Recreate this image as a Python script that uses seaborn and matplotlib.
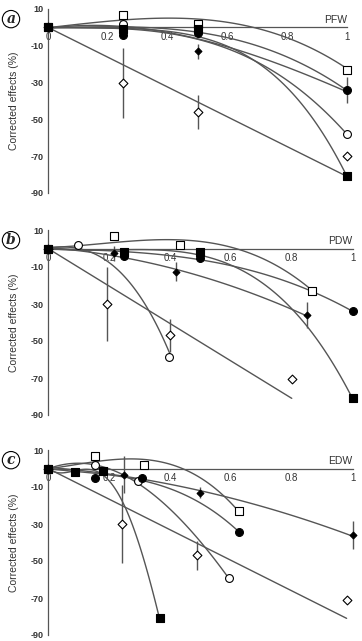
import numpy as np
import matplotlib
matplotlib.use("Agg")
import matplotlib.pyplot as plt
import seaborn as sns

# ---------------- panel a : PFW ----------------
a_osq_x = [0, 0.25, 0.5, 1]
a_osq_y = [0, 7, 2, -23]
a_fci_x = [0, 0.25, 0.5, 1]
a_fci_y = [0, -4, -3, -34]
a_fci_e = [0, 0, 0, 7]
a_oci_x = [0, 0.25, 0.5, 1]
a_oci_y = [0, 2, -1, -58]
a_odi_x = [0, 0.25, 0.5, 1]
a_odi_y = [0, -30, -46, -70]
a_odi_e = [0, 19, 9, 0]
a_fsq_x = [0, 0.25, 0.5, 1]
a_fsq_y = [0, -1, -1, -81]
a_fdi_x = [0, 0.5]
a_fdi_y = [0, -13]
a_fdi_e = [0, 4]

# trend curves (x, y, polynomial order)
a_curves = [
    ([0, 0.25, 0.5, 0.7, 0.85, 1], [0, 3.5, 5, 0, -10, -22], 3),
    ([0, 0.25, 0.5, 0.81, 1], [0, -0.5, -1.5, -17.6, -34], 3),
    ([0, 0.25, 0.52, 0.7, 0.865, 1], [0, -1.5, -4, -16.6, -27.5, -34], 3),
    ([0, 0.25, 0.5, 0.7, 0.85, 1], [0, -1, -6, -19, -35, -58], 3),
    ([0, 0.25, 0.5, 0.7, 0.85, 1], [0, -0.5, -5, -19, -42, -81], 4),
    ([0, 1], [0, -81], 1),
]

# ---------------- panel b : PDW ----------------
b_osq_x = [0, 0.215, 0.434, 0.867]
b_osq_y = [0, 7, 2, -23]
b_fci_x = [0, 0.25, 0.5, 1]
b_fci_y = [0, -4, -5, -34]
b_fci_e = [0, 0, 0, 0]
b_oci_x = [0, 0.1, 0.396]
b_oci_y = [0, 2, -58.5]
b_odi_x = [0, 0.195, 0.40, 0.80]
b_odi_y = [0, -30, -47, -70.5]
b_odi_e = [0, 20, 9, 0]
b_fsq_x = [0, 0.25, 0.5, 1]
b_fsq_y = [0, -2, -2, -81]
b_fdi_x = [0, 0.215, 0.42, 0.849]
b_fdi_y = [0, -2.5, -12.5, -36]
b_fdi_e = [0, 4, 5, 7]

b_curves = [
    ([0, 0.1, 0.25, 0.434, 0.6, 0.763, 0.867], [0, 2.5, 3.5, 4, 1, -10, -23], 3),
    ([0, 0.25, 0.5, 0.7, 0.867, 1], [0, -2, -5.5, -14, -23, -34], 3),
    ([0, 0.21, 0.42, 0.63, 0.85], [0, -3, -11, -23, -36], 2),
    ([0, 0.25, 0.5, 0.7, 0.8, 0.9, 1], [0, -0.5, -4, -18, -32, -54, -81], 4),
    ([0, 0.1, 0.17, 0.28, 0.356, 0.4], [0, 1, -5, -22, -39, -58], 3),
    ([0, 0.8], [0, -81], 1),
]

# ---------------- panel c : EDW ----------------
c_osq_x = [0, 0.155, 0.314, 0.626]
c_osq_y = [0, 7, 2, -23]
c_fci_x = [0, 0.155, 0.31, 0.626]
c_fci_y = [0, -5, -5, -34.5]
c_fci_e = [0, 0, 0, 0]
c_oci_x = [0, 0.155, 0.297, 0.593]
c_oci_y = [0, 2, -7, -59]
c_odi_x = [0, 0.242, 0.49, 0.98]
c_odi_y = [0, -30, -47, -71]
c_odi_e = [0, 21, 8, 0]
c_fsq_x = [0, 0.089, 0.182, 0.366]
c_fsq_y = [0, -2, -1.5, -81]
c_fdi_x = [0, 0.248, 0.5, 1]
c_fdi_y = [0, -3.5, -13, -36]
c_fdi_e = [0, 10, 3, 7.5]

c_curves = [
    ([0, 0.15, 0.3, 0.4, 0.5, 0.626], [0, 3, 5.5, 3, -6, -23], 3),
    ([0, 0.155, 0.31, 0.5, 0.626], [0, -3, -6, -19, -34], 3),
    ([0, 0.155, 0.3, 0.39, 0.5, 0.593], [0, 1, -7, -21, -40, -59], 3),
    ([0, 0.09, 0.18, 0.25, 0.3, 0.366], [0, -1, -4, -19, -42, -81], 4),
    ([0, 0.25, 0.5, 0.75, 1], [0, -3, -12, -24, -36], 2),
    ([0, 0.98], [0, -81], 1),
]

x_ticks = [0, 0.2, 0.4, 0.6, 0.8, 1]
x_tick_labels = ["0", "0.2", "0.4", "0.6", "0.8", "1"]
y_ticks = [10, -10, -30, -50, -70, -90]
y_tick_labels = ["10", "-10", "-30", "-50", "-70", "-90"]

# marker, face colour, size (pt^2)
STYLES = {
    "odi": ("D", "white", 20),
    "fdi": ("D", "black", 12),
    "oci": ("o", "white", 32),
    "fci": ("o", "black", 32),
    "osq": ("s", "white", 32),
    "fsq": ("s", "black", 32),
}

LINE_COL = "#555555"


def draw_panel(ax, series, curves, name, letter, ax_w_px):
    for cx, cy, order in curves:
        sns.regplot(x=np.array(cx, float), y=np.array(cy, float), order=order,
                    ci=None, scatter=False, truncate=True, ax=ax,
                    color=LINE_COL, line_kws={"lw": 1.0, "zorder": 2})

    for key, x, y, err in series:
        if err is not None:
            ax.errorbar(x, y, yerr=err, fmt="none", ecolor=LINE_COL,
                        elinewidth=1.0, capsize=0, zorder=3, clip_on=False)
    for key, x, y, err in series:
        m, fc, s = STYLES[key]
        sns.scatterplot(x=x, y=y, marker=m, s=s, color=fc, edgecolor="black",
                        linewidth=0.8, zorder=5, clip_on=False, ax=ax)

    ax.set_xlim(0, 1)
    ax.set_ylim(-90, 10)
    for sp in ["top", "right"]:
        ax.spines[sp].set_visible(False)
    ax.spines["left"].set_position(("data", 0))
    ax.spines["bottom"].set_position(("data", 0))
    for sp in ["left", "bottom"]:
        ax.spines[sp].set_color("#555555")
        ax.spines[sp].set_linewidth(0.9)

    ax.set_xticks(x_ticks)
    ax.set_xticklabels(x_tick_labels)
    ax.set_xticks(np.arange(0.1, 1.0, 0.2), minor=True)
    ax.set_yticks(y_ticks)
    ax.set_yticklabels(y_tick_labels)
    ax.set_yticks(np.arange(0, -90, -20), minor=True)
    ax.tick_params(axis="x", which="both", direction="in", length=3,
                   width=0.8, color="#555555", labelsize=7, pad=3,
                   labelcolor="#333333")
    ax.tick_params(axis="y", which="both", direction="in", length=3,
                   width=0.8, color="#555555", labelsize=6.5, pad=3,
                   labelcolor="#333333")
    for lab in ax.get_yticklabels():
        lab.set_fontweight("bold")

    ax.set_xlabel("")
    ax.set_ylabel("Corrected effects (%)", fontsize=7.5, color="#333333")
    ax.yaxis.set_label_coords(-(48 - 19) / ax_w_px, 0.5)
    ax.text(1.0, 1.5, name, ha="right", va="bottom", fontsize=7.5,
            color="#333333")
    ax.text(-(48 - 11) / ax_w_px, 0.945, letter, transform=ax.transAxes,
            ha="center", va="center", fontsize=10, fontweight="bold",
            style="italic", family="DejaVu Serif",
            bbox=dict(boxstyle="circle,pad=0.12", fc="white", ec="black",
                      lw=0.8))


def main():
    sns.set_theme(style="white")
    plt.rcParams["font.family"] = ["Liberation Sans", "DejaVu Sans"]

    fig = plt.figure(figsize=(3.62, 6.41), dpi=100)
    H = 641.0
    W = 362.0
    ax_a = fig.add_axes([48 / W, 1 - 193 / H, 299 / W, 184 / H])
    ax_b = fig.add_axes([48 / W, 1 - 415 / H, 304.7 / W, 185 / H])
    ax_c = fig.add_axes([48 / W, 1 - 635 / H, 304.7 / W, 185 / H])

    series_a = [
        ("odi", a_odi_x, a_odi_y, a_odi_e),
        ("fdi", a_fdi_x, a_fdi_y, a_fdi_e),
        ("oci", a_oci_x, a_oci_y, None),
        ("fci", a_fci_x, a_fci_y, a_fci_e),
        ("osq", a_osq_x, a_osq_y, None),
        ("fsq", a_fsq_x, a_fsq_y, None),
    ]
    series_b = [
        ("odi", b_odi_x, b_odi_y, b_odi_e),
        ("fdi", b_fdi_x, b_fdi_y, b_fdi_e),
        ("oci", b_oci_x, b_oci_y, None),
        ("fci", b_fci_x, b_fci_y, b_fci_e),
        ("osq", b_osq_x, b_osq_y, None),
        ("fsq", b_fsq_x, b_fsq_y, None),
    ]
    series_c = [
        ("odi", c_odi_x, c_odi_y, c_odi_e),
        ("fdi", c_fdi_x, c_fdi_y, c_fdi_e),
        ("oci", c_oci_x, c_oci_y, None),
        ("fci", c_fci_x, c_fci_y, c_fci_e),
        ("osq", c_osq_x, c_osq_y, None),
        ("fsq", c_fsq_x, c_fsq_y, None),
    ]

    draw_panel(ax_a, series_a, a_curves, "PFW", "a", 299)
    draw_panel(ax_b, series_b, b_curves, "PDW", "b", 304.7)
    draw_panel(ax_c, series_c, c_curves, "EDW", "c", 304.7)

    fig.savefig("out.png", dpi=100)
    plt.close(fig)


if __name__ == "__main__":
    main()
